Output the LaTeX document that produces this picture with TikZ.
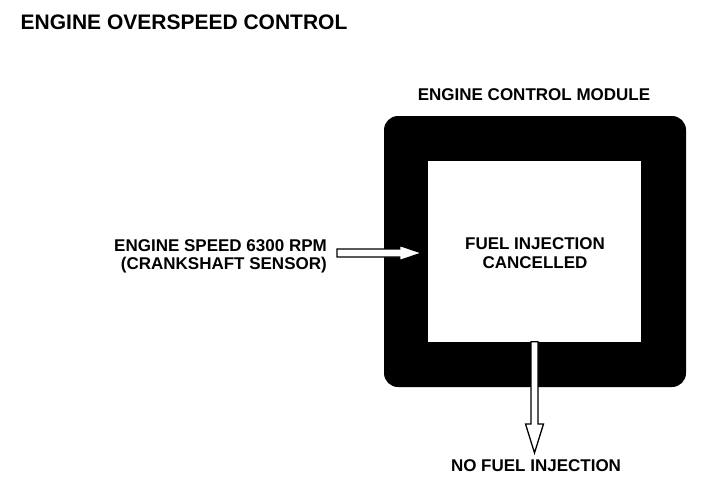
\documentclass[tikz,border=0pt]{standalone}
\usepackage{fontspec}
\setmainfont{Liberation Sans}
\usetikzlibrary{calc}
\begin{document}
\begin{tikzpicture}[x=1pt,y=-1pt,
  lbl/.style={font=\fontsize{17}{20}\selectfont\bfseries, inner sep=0pt},
  ttl/.style={font=\fontsize{21}{25}\selectfont\bfseries, inner sep=0pt},
  hollow/.style={fill=white, draw=black, line width=1.3pt, line join=miter}]
\useasboundingbox (0,0) rectangle (704,480);
\fill[white] (0,0) rectangle (704,480);
% title
\node[ttl, anchor=base west] (title) at (20.5,29) {ENGINE OVERSPEED CONTROL};
% module
\node[fill=black, rounded corners=14pt, minimum width=302pt, minimum height=271pt, inner sep=0pt] (ecm) at (535,251.5) {};
\node[fill=white, minimum width=213pt, minimum height=181pt, inner sep=0pt] (inner) at (534.5,251.5) {};
\node[lbl, anchor=base] (ecmlbl) at (534,100) {ENGINE CONTROL MODULE};
\node[lbl, anchor=base] (fi1) at (535,249) {FUEL INJECTION};
\node[lbl, anchor=base] (fi2) at (535,268) {CANCELLED};
% input
\node[lbl, anchor=base east] (in1) at (327,251) {ENGINE SPEED 6300 RPM};
\node[lbl, anchor=base east] (in2) at (327,269) {(CRANKSHAFT SENSOR)};
% output
\node[lbl, anchor=base] (out) at (536,471) {NO FUEL INJECTION};
% left hollow arrow
\coordinate (inTail) at ($(in1.east)+(10,0)$);
\coordinate (inTip) at ($(inner.west)+(-6,1.5)$);
\path let \p1=(inTail), \p2=(inTip) in coordinate (inT) at (\x1,\y2);
\draw[hollow] ($(inT)+(0,-4)$) -- ($(inTip)+(-22,-4)$) -- ($(inTip)+(-22,-7.5)$) -- (inTip)
  -- ($(inTip)+(-22,7.5)$) -- ($(inTip)+(-22,4)$) -- ($(inT)+(0,4)$) -- cycle;
% down hollow arrow
\coordinate (outTail) at ($(inner.south)+(0,-0.5)$);
\path let \p1=(outTail), \p2=(out.north) in coordinate (outTip) at (\x1,\y2+6);
\draw[hollow] ($(outTail)+(-3.5,0)$) -- ($(outTip)+(-3.5,-29)$) -- ($(outTip)+(-9,-29)$) -- (outTip)
  -- ($(outTip)+(9,-29)$) -- ($(outTip)+(3.5,-29)$) -- ($(outTail)+(3.5,0)$) -- cycle;
\end{tikzpicture}
\end{document}
